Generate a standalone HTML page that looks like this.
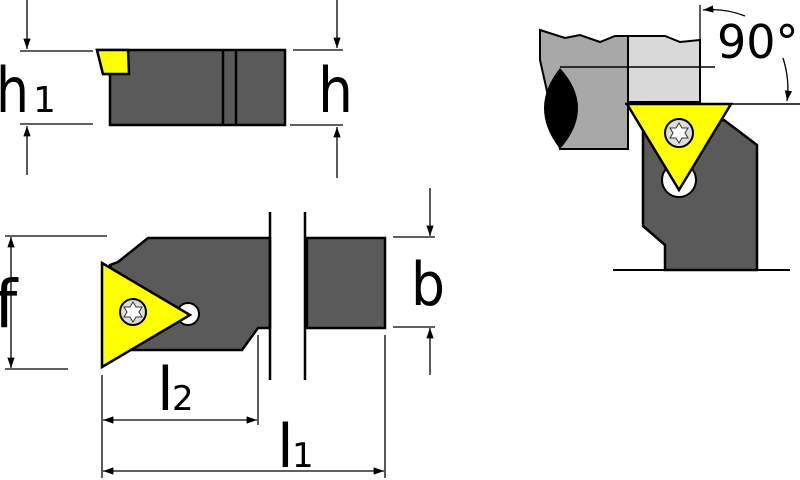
<!DOCTYPE html>
<html><head><style>body{margin:0;background:#fff}svg{display:block}text{font-family:"DejaVu Sans","Liberation Sans",sans-serif;fill:#000}</style></head><body>
<svg width="800" height="480" viewBox="0 0 800 480" xmlns="http://www.w3.org/2000/svg">
<defs>
<marker id="a" viewBox="0 0 10 10" refX="10" refY="5" markerWidth="8" markerHeight="8" orient="auto-start-reverse"><path d="M0,1.5 L10,5 L0,8.5 z" fill="#000"/></marker>
</defs>
<!-- top view -->
<polygon points="97,50 285,50 285,125 110,125 110,74 103,74" fill="#5a5a5a" stroke="#000" stroke-width="2.5"/>
<polygon points="97,50 128,50 129,74 103,74" fill="#ffff00" stroke="#000" stroke-width="2.5"/>
<line x1="223" y1="50" x2="223" y2="125" stroke="#000" stroke-width="2.5"/>
<line x1="236" y1="50" x2="236" y2="125" stroke="#000" stroke-width="2.5"/>
<g stroke="#000" stroke-width="1.3" fill="none">
<line x1="20" y1="51" x2="93" y2="51"/><line x1="20" y1="124" x2="93" y2="124"/>
<line x1="293" y1="50" x2="343" y2="50"/><line x1="290" y1="125" x2="343" y2="125"/>
<line x1="27" y1="0" x2="27" y2="49" marker-end="url(#a)"/>
<line x1="27" y1="175" x2="27" y2="126" marker-end="url(#a)"/>
<line x1="337" y1="0" x2="337" y2="48" marker-end="url(#a)"/>
<line x1="337" y1="178" x2="337" y2="127" marker-end="url(#a)"/>
</g>
<text x="-4" y="112" font-size="62" textLength="33" lengthAdjust="spacingAndGlyphs">h</text><text x="33" y="112" font-size="36">1</text>
<text x="318" y="112" font-size="62" textLength="35" lengthAdjust="spacingAndGlyphs">h</text>
<!-- bottom view -->
<polygon points="148,238 270,238 270,328 258,328 242,350 128,350 110,265 118,262" fill="#5a5a5a" stroke="#000" stroke-width="2.5"/>
<rect x="307" y="238" width="78" height="90" fill="#5a5a5a" stroke="#000" stroke-width="2.5"/>
<line x1="270" y1="212" x2="270" y2="380" stroke="#000" stroke-width="2.5"/>
<line x1="305" y1="212" x2="305" y2="380" stroke="#000" stroke-width="2.5"/>
<circle cx="188" cy="314" r="11" fill="#fff" stroke="#000" stroke-width="2"/>
<polygon points="102,263 190,315 102,367" fill="#ffff00" stroke="#000" stroke-width="2.5"/>
<circle cx="133" cy="312" r="13" fill="#ddd" stroke="#000" stroke-width="2"/>
<polygon points="133,302 136,307 142,307 139,312 142,317 136,317 133,322 130,317 124,317 127,312 124,307 130,307" fill="#fff" stroke="#333" stroke-width="1"/>
<g stroke="#000" stroke-width="1.3" fill="none">
<line x1="5" y1="236" x2="107" y2="236"/><line x1="5" y1="369" x2="68" y2="369"/>
<line x1="11" y1="250" x2="11" y2="237" marker-end="url(#a)"/>
<line x1="11" y1="250" x2="11" y2="368" marker-end="url(#a)"/>
<line x1="393" y1="237" x2="435" y2="237"/><line x1="393" y1="327" x2="435" y2="327"/>
<line x1="430" y1="188" x2="430" y2="236" marker-end="url(#a)"/>
<line x1="430" y1="375" x2="430" y2="328" marker-end="url(#a)"/>
<line x1="258" y1="335" x2="258" y2="425"/>
<line x1="385" y1="335" x2="385" y2="478"/>
<line x1="102" y1="375" x2="102" y2="478"/>
<line x1="180" y1="420" x2="103" y2="420" marker-end="url(#a)"/>
<line x1="180" y1="420" x2="257" y2="420" marker-end="url(#a)"/>
<line x1="240" y1="471" x2="103" y2="471" marker-end="url(#a)"/>
<line x1="240" y1="471" x2="384" y2="471" marker-end="url(#a)"/>
</g>
<text x="-6" y="327" font-size="66">f</text>
<text x="411" y="305" font-size="60" textLength="34" lengthAdjust="spacingAndGlyphs">b</text>
<text x="157" y="410" font-size="60">l</text><text x="172" y="410" font-size="34">2</text>
<text x="277" y="467" font-size="60">l</text><text x="292" y="467" font-size="34">1</text>
<!-- right view -->
<polygon points="540,30 565,38 580,35 600,42 615,36 628,36 628,149 560,149 540,60" fill="#a8a8a8" stroke="#000" stroke-width="2"/>
<polygon points="628,36 665,36 680,42 700,40 700,102 628,102" fill="#d9d9d9" stroke="#000" stroke-width="2"/>
<path d="M560,68 Q528,108 560,149 Q596,108 560,68 z" fill="#000"/>
<line x1="560" y1="67" x2="715" y2="67" stroke="#000" stroke-width="1.5"/>
<line x1="700" y1="5" x2="700" y2="102" stroke="#000" stroke-width="1.3"/>
<line x1="625" y1="104" x2="800" y2="104" stroke="#000" stroke-width="1.5"/>
<polygon points="643,130 724,120 757,145 757,270 665,270 665,245 643,226" fill="#5a5a5a" stroke="#000" stroke-width="2.5"/>
<circle cx="679" cy="180" r="17" fill="#fff" stroke="#000" stroke-width="2"/>
<polygon points="627,104 731,104 679,190" fill="#ffff00" stroke="#000" stroke-width="2.5"/>
<circle cx="679" cy="133" r="14" fill="#ddd" stroke="#000" stroke-width="2"/>
<polygon points="679,123 682,128 688,128 685,133 688,138 682,138 679,143 676,138 670,138 673,133 670,128 676,128" fill="#fff" stroke="#333" stroke-width="1"/>
<line x1="613" y1="270" x2="790" y2="270" stroke="#000" stroke-width="2"/>
<path d="M745,16 Q725,8 703,10" stroke="#000" stroke-width="1.3" fill="none" marker-end="url(#a)"/>
<path d="M783,58 Q790,80 787,101" stroke="#000" stroke-width="1.3" fill="none" marker-end="url(#a)"/>
<text x="717" y="58" font-size="46">90°</text>
</svg>
</body></html>
